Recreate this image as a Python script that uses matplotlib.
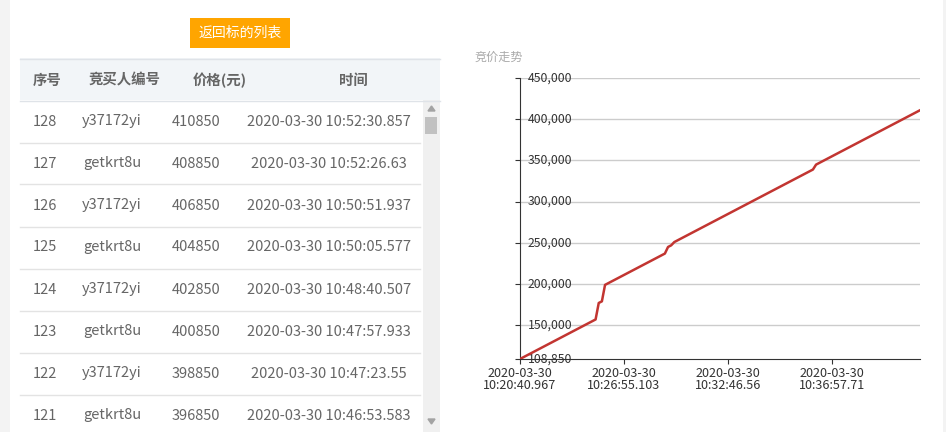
import matplotlib
import matplotlib.pyplot as plt
from matplotlib.patches import Rectangle, Polygon
from matplotlib.lines import Line2D
from matplotlib.transforms import offset_copy

matplotlib.use("Agg")
plt.rcParams["font.family"] = ["Noto Sans CJK SC", "DejaVu Sans"]

# ------------------------------------------------------------------ #
#  Dados                                                               #
# ------------------------------------------------------------------ #
# preço de cada lance (índice 0 = primeiro lance, 127 = último)
prices = [
    108850, 110850, 112850, 114850, 116850, 118850, 120850, 122850, 124850, 126850,
    128850, 130850, 132850, 134850, 136850, 138850, 140850, 142850, 144850, 146850,
    148850, 150850, 152850, 154850, 156850, 176850, 178850, 198850, 200850, 202850,
    204850, 206850, 208850, 210850, 212850, 214850, 216850, 218850, 220850, 222850,
    224850, 226850, 228850, 230850, 232850, 234850, 236850, 244850, 246850, 250850,
    252850, 254850, 256850, 258850, 260850, 262850, 264850, 266850, 268850, 270850,
    272850, 274850, 276850, 278850, 280850, 282850, 284850, 286850, 288850, 290850,
    292850, 294850, 296850, 298850, 300850, 302850, 304850, 306850, 308850, 310850,
    312850, 314850, 316850, 318850, 320850, 322850, 324850, 326850, 328850, 330850,
    332850, 334850, 336850, 338850, 344850, 346850, 348850, 350850, 352850, 354850,
    356850, 358850, 360850, 362850, 364850, 366850, 368850, 370850, 372850, 374850,
    376850, 378850, 380850, 382850, 384850, 386850, 388850, 390850, 392850, 394850,
    396850, 398850, 400850, 402850, 404850, 406850, 408850, 410850,
]
tick_idx = [0, 33, 66, 99]
tick_labels = [
    "2020-03-30\n10:20:40.967",
    "2020-03-30\n10:26:55.103",
    "2020-03-30\n10:32:46.56",
    "2020-03-30\n10:36:57.71",
]
y_ticks = [108850, 150000, 200000, 250000, 300000, 350000, 400000, 450000]

headers = ["序号", "竞买人编号", "价格(元)", "时间"]
seq = [128, 127, 126, 125, 124, 123, 122, 121]
bidders = ["y37172yi", "getkrt8u", "y37172yi", "getkrt8u",
           "y37172yi", "getkrt8u", "y37172yi", "getkrt8u"]
row_prices = [410850, 408850, 406850, 404850, 402850, 400850, 398850, 396850]
times = [
    "2020-03-30 10:52:30.857",
    "2020-03-30 10:52:26.63",
    "2020-03-30 10:50:51.937",
    "2020-03-30 10:50:05.577",
    "2020-03-30 10:48:40.507",
    "2020-03-30 10:47:57.933",
    "2020-03-30 10:47:23.55",
    "2020-03-30 10:46:53.583",
]

W, H = 946, 432


def fx(x):
    return x / W


def fy(y):
    return 1 - y / H


fig = plt.figure(figsize=(W / 100, H / 100), dpi=100)
fig.patch.set_facecolor("white")


def rect(x0, y0, x1, y1, color):
    fig.add_artist(Rectangle((fx(x0), fy(y1)), fx(x1) - fx(x0), fy(y0) - fy(y1),
                             transform=fig.transFigure, facecolor=color,
                             edgecolor="none", zorder=0))


def hline(x0, x1, y, color):
    fig.add_artist(Line2D([fx(x0), fx(x1)], [fy(y), fy(y)], transform=fig.transFigure,
                          color=color, linewidth=1))


# moldura cinza da página
rect(0, 0, 10, H, "#f3f3f3")
rect(943, 0, W, H, "#f3f3f3")

# botão laranja
rect(190, 18, 290, 48, "#ffa500")
fig.text(fx(240), fy(33), "返回标的列表", color="white", fontsize=10,
         ha="center", va="center")

# ------------------------------------------------------------------ #
#  Tabela                                                              #
# ------------------------------------------------------------------ #
rect(20, 58, 440, 100, "#f2f5f8")
hline(20, 440, 58.5, "#dfe3e8")
hline(20, 440, 100.5, "#dfe3e8")
head_x = [47, 124, 220, 353]
body_x = [45, 112, 196, 329]
for hx, h in zip(head_x, headers):
    fig.text(fx(hx), fy(80.5), h, color="#666666", fontsize=10.4, fontweight="bold",
             ha="center", va="center")

row_h = 42
for i in range(len(seq)):
    yc = 121.5 + i * row_h
    vals = [str(seq[i]), bidders[i], str(row_prices[i]), times[i]]
    for bx, v in zip(body_x, vals):
        fig.text(fx(bx), fy(yc), v, color="#666666", fontsize=10.5,
                 ha="center", va="center")
    hline(20, 420, 142.5 + i * row_h, "#e3e3e3")

# barra de rolagem
rect(423, 100, 440, H, "#f0f0f0")
rect(425, 117, 437, 134, "#c1c1c1")
fig.add_artist(Polygon([[fx(428), fy(111)], [fx(435), fy(111)], [fx(431.5), fy(106)]],
                       closed=True, transform=fig.transFigure, color="#a3a3a3"))
fig.add_artist(Polygon([[fx(428), fy(419)], [fx(435), fy(419)], [fx(431.5), fy(424)]],
                       closed=True, transform=fig.transFigure, color="#a3a3a3"))

# ------------------------------------------------------------------ #
#  Gráfico                                                             #
# ------------------------------------------------------------------ #
fig.text(fx(475), fy(57), "竞价走势", color="#aaaaaa", fontsize=8.7,
         ha="left", va="center")

ax = fig.add_axes([fx(520), fy(359), fx(920) - fx(520), fy(78) - fy(359)])
ax.set_facecolor("none")
x = list(range(len(prices)))
ax.plot(x, prices, color="#c23531", linewidth=1.8, solid_joinstyle="round", zorder=3)
ax.set_xlim(0, len(prices) - 1)
ax.set_ylim(y_ticks[0], y_ticks[-1])

for v in y_ticks[1:]:
    ax.axhline(v, color="#cccccc", linewidth=1, zorder=1)

ax.spines["top"].set_visible(False)
ax.spines["right"].set_visible(False)
ax.spines["left"].set_color("#333333")
ax.spines["bottom"].set_color("#333333")

ax.set_yticks(y_ticks)
ax.set_yticklabels([])
ax.tick_params(axis="y", length=3.6, color="#333333")
lab_tr = offset_copy(ax.get_yaxis_transform(), fig=fig, x=8, y=0, units="dots")
for v in y_ticks:
    ax.text(0, v, f"{v:,}", transform=lab_tr, ha="left", va="center",
            fontsize=8.8, color="#333333", zorder=2)

ax.set_xticks(tick_idx)
ax.set_xticklabels(tick_labels, fontsize=9.1, color="#333333", linespacing=0.92)
ax.tick_params(axis="x", length=3.6, color="#333333", pad=2)

fig.savefig("out.png", dpi=100)
